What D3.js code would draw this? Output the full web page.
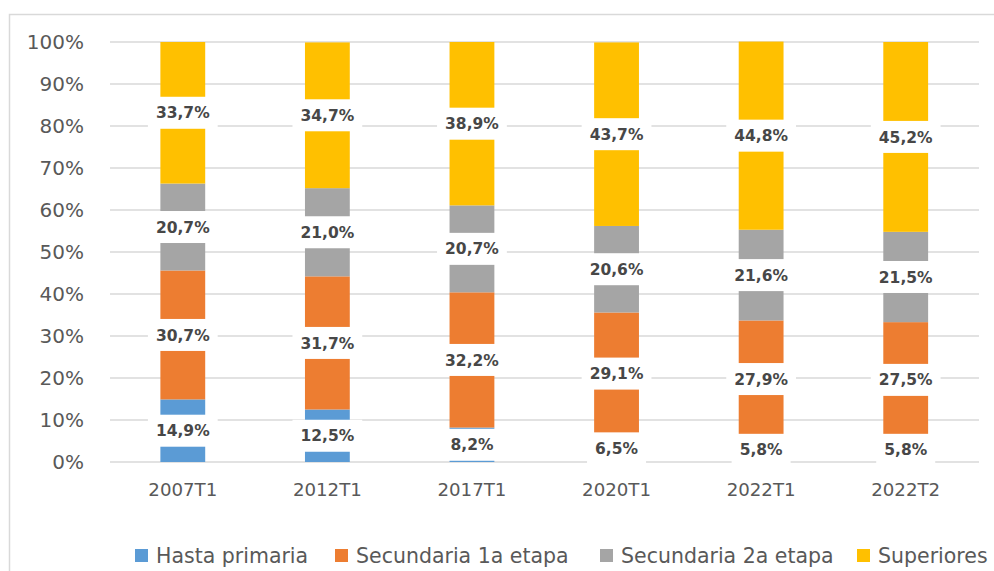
<!DOCTYPE html>
<html><head><meta charset="utf-8">
<script src="https://cdn.jsdelivr.net/npm/d3@7"></script>
<style>body{margin:0;background:#fff}svg{display:block}text{font-family:"DejaVu Sans",sans-serif}</style>
</head><body><svg id="c" width="994" height="571"></svg>
<script>
const categories = ["2007T1","2012T1","2017T1","2020T1","2022T1","2022T2"];
const seriesNames = ["Hasta primaria","Secundaria 1a etapa","Secundaria 2a etapa","Superiores"];
const hastaPrimaria = [14.9,12.5,8.2,6.5,5.8,5.8];
const secundaria1a = [30.7,31.7,32.2,29.1,27.9,27.5];
const secundaria2a = [20.7,21.0,20.7,20.6,21.6,21.5];
const superiores = [33.7,34.7,38.9,43.7,44.8,45.2];
const yTicks = [0,10,20,30,40,50,60,70,80,90,100];
const colors = ["#5B9BD5","#ED7D31","#A5A5A5","#FFC000"];

const svg = d3.select("#c");
// outer border
svg.append("rect").attr("x",9.5).attr("y",14.5).attr("width",1000).attr("height",600)
  .attr("fill","none").attr("stroke","#d9d9d9").attr("stroke-width",1.5);

const x = d3.scaleBand().domain(categories).range([110.5,978]).paddingInner(0.69).paddingOuter(0.345);
const y = d3.scaleLinear().domain([0,100]).range([462,42]);

// gridlines
svg.append("g").selectAll("line").data(yTicks).join("line")
  .attr("x1",110).attr("x2",979).attr("y1",d=>y(d)).attr("y2",d=>y(d))
  .attr("stroke","#d9d9d9").attr("stroke-width",1.6);

// y axis labels
const yAxis = d3.axisLeft(y).tickValues(yTicks).tickSize(0).tickPadding(0).tickFormat(d=>d+"%");
const ya = svg.append("g").attr("transform","translate(84,0)").call(yAxis);
ya.select(".domain").remove();
ya.selectAll("text").attr("font-size",20).attr("fill","#595959").attr("font-family","DejaVu Sans");

// x axis labels
const xAxis = d3.axisBottom(x).tickSize(0).tickPadding(0);
const xa = svg.append("g").attr("transform","translate(0,483)").call(xAxis);
xa.select(".domain").remove();
xa.selectAll("text").attr("font-size",18.2).attr("fill","#595959").attr("font-family","DejaVu Sans");

const rows = categories.map((c,i)=>({cat:c, "0":hastaPrimaria[i], "1":secundaria1a[i], "2":secundaria2a[i], "3":superiores[i]}));
const stack = d3.stack().keys(["0","1","2","3"]);
const layers = stack(rows);

const gBars = svg.append("g");
layers.forEach((layer,li)=>{
  gBars.selectAll(null).data(layer).join("rect")
    .attr("x",d=>x(d.data.cat)).attr("width",x.bandwidth())
    .attr("y",d=>y(d[1])).attr("height",d=>y(d[0])-y(d[1]))
    .attr("fill",colors[li]);
});

const fmt = v => v.toFixed(1).replace(".",",")+"%";
const gLab = svg.append("g");
layers.forEach((layer,li)=>{
  layer.forEach(d=>{
    const cx = x(d.data.cat)+x.bandwidth()/2;
    const cy = y((d[0]+d[1])/2);
    const g = gLab.append("g");
    const t = g.append("text").attr("x",cx).attr("y",cy).attr("dy","0.36em")
      .attr("text-anchor","middle").attr("font-size",15.5).attr("font-weight","bold")
      .attr("fill","#474747").text(fmt(d[1]-d[0]));
    const w = t.node().getComputedTextLength();
    g.insert("rect","text").attr("x",cx-w/2-8).attr("y",cy-16).attr("width",w+16).attr("height",32).attr("fill","#fff");
  });
});

// legend
const legX = [135,335,600,857];
const lg = svg.append("g");
seriesNames.forEach((n,i)=>{
  lg.append("rect").attr("x",legX[i]).attr("y",549).attr("width",13).attr("height",13).attr("fill",colors[i]);
  lg.append("text").attr("x",legX[i]+21).attr("y",555.5).attr("dy","0.36em")
    .attr("font-size",20.5).attr("fill","#595959").text(n);
});
</script></body></html>
